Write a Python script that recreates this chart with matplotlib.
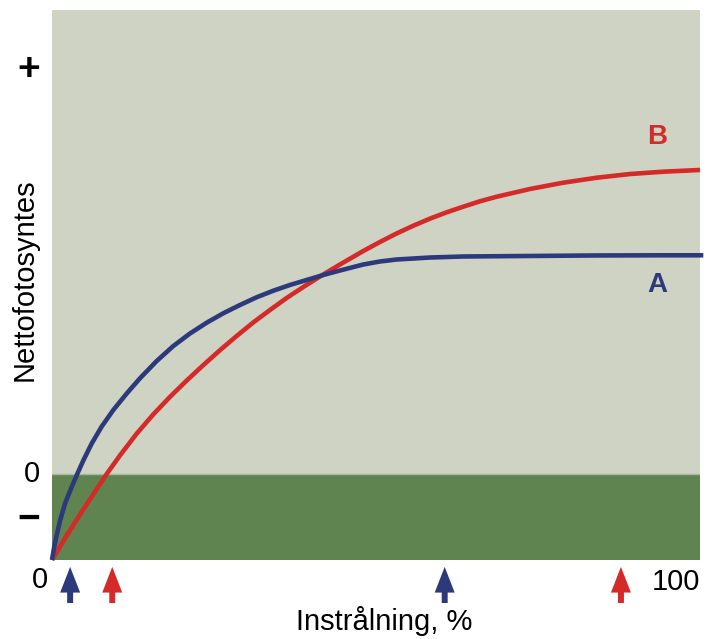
import matplotlib
matplotlib.use("Agg")
import matplotlib.pyplot as plt

# Light intensity (% of full light) and net photosynthesis (arbitrary units,
# 0 = compensation point, -1 = dark respiration)
x_a = [0, 0.31, 0.73, 1.23, 2.01, 3.04, 3.90, 4.83, 6.13, 7.67, 9.46, 11.53,
       13.58, 16.16, 18.72, 21.30, 23.87, 26.44, 29.01, 31.59, 34.15, 36.73,
       39.31, 41.87, 44.44, 48.04, 50.62, 53.19, 58.33, 63.47, 73.77, 84.06,
       94.34, 100.51]
y_a = [-1.0, -0.860, -0.709, -0.547, -0.343, -0.151, 0.0, 0.157, 0.355, 0.552,
       0.744, 0.936, 1.113, 1.314, 1.488, 1.634, 1.759, 1.869, 1.965, 2.055,
       2.131, 2.198, 2.256, 2.314, 2.366, 2.436, 2.471, 2.494, 2.517, 2.529,
       2.535, 2.541, 2.543, 2.543]

x_b = [0, 0.46, 2.27, 4.32, 6.37, 8.44, 10.49, 13.07, 15.63, 18.21, 20.79,
       23.35, 25.93, 28.50, 31.06, 33.64, 36.22, 38.78, 41.36, 44.44, 48.04,
       50.62, 53.19, 55.76, 58.33, 60.91, 63.47, 66.05, 68.63, 73.77, 78.90,
       84.06, 89.20, 94.34, 100]
y_b = [-1.0, -0.941, -0.716, -0.471, -0.236, 0.0, 0.216, 0.469, 0.693, 0.897,
       1.087, 1.266, 1.440, 1.605, 1.762, 1.907, 2.047, 2.174, 2.297, 2.436,
       2.593, 2.698, 2.797, 2.887, 2.969, 3.043, 3.108, 3.171, 3.224, 3.314,
       3.387, 3.445, 3.488, 3.515, 3.535]

# compensation / saturation points marked with arrows
arrows_a = [2.8, 60.6]
arrows_b = [9.3, 87.8]

BLUE = "#2c3a7c"
RED = "#d42a28"

plt.rcParams["font.family"] = ["Liberation Sans", "DejaVu Sans"]

fig = plt.figure(figsize=(7.06, 6.39), dpi=100)
ax = fig.add_axes([52 / 706, 79 / 639, 648 / 706, 550 / 639])
ax.set_xlim(0, 100)
ax.set_ylim(-1, 5.395)

ax.axhspan(0, 5.395, color="#cfd3c4", lw=0, zorder=0)
ax.axhspan(-1, 0, color="#5f8450", lw=0, zorder=0)
ax.axhline(0, color="#a9b8a0", lw=1, zorder=1)

ax.plot(x_a, y_a, color=BLUE, lw=3.3, solid_capstyle="butt",
        solid_joinstyle="round", zorder=3, clip_on=False)
ax.plot(x_b, y_b, color=RED, lw=3.3, solid_capstyle="butt",
        solid_joinstyle="round", zorder=2, clip_on=False)

ax.text(93.4, 2.2, "A", color=BLUE, fontsize=20, fontweight="bold", ha="center", va="center")
ax.text(93.4, 3.92, "B", color=RED, fontsize=20, fontweight="bold", ha="center", va="center")

for xs, col in [(arrows_a, BLUE), (arrows_b, RED)]:
    for xv in xs:
        ax.annotate("", xy=(xv, -1.08), xytext=(xv, -1.50),
                    xycoords="data", textcoords="data", annotation_clip=False,
                    arrowprops=dict(width=4.3, headwidth=14.4, headlength=18.5,
                                    shrink=0, color=col, lw=0))

for s in ax.spines.values():
    s.set_visible(False)
ax.set_xticks([])
ax.set_yticks([])

fs = 21
fig.text(32 / 706, 1 - 474 / 639, "0", fontsize=fs, ha="center", va="center")
fig.text(40 / 706, 1 - 580 / 639, "0", fontsize=fs, ha="center", va="center")
fig.text(676 / 706, 1 - 582 / 639, "100", fontsize=fs, ha="center", va="center")
fig.text(384 / 706, 1 - 621 / 639, "Instrålning, %", fontsize=fs, ha="center", va="center")
fig.text(25 / 706, 1 - 280 / 639, "Nettofotosyntes", fontsize=fs, rotation=90,
         ha="center", va="center")
fig.text(29 / 706, 1 - 70 / 639, "+", fontsize=28, fontweight="bold", ha="center", va="center")
fig.text(29 / 706, 1 - 520 / 639, "\u2212", fontsize=28, fontweight="bold", ha="center", va="center")

fig.savefig("out.png", dpi=100)
